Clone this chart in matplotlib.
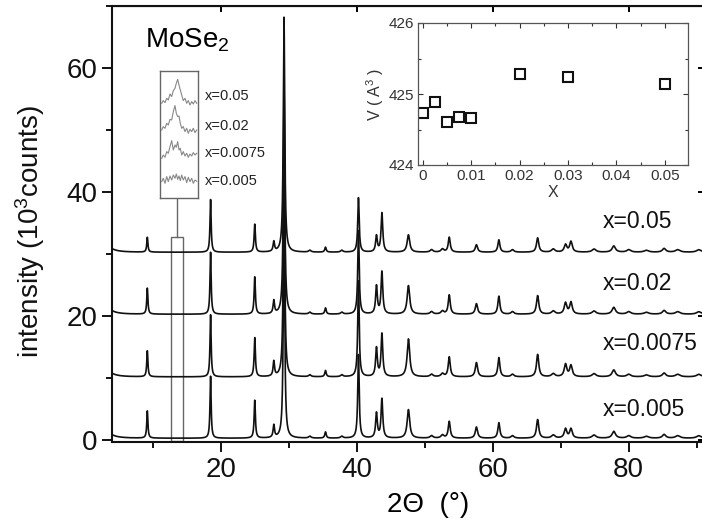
# XRD patterns of MoSe2 with lattice volume inset
import numpy as np
import matplotlib
matplotlib.use('Agg')
import matplotlib.pyplot as plt
from matplotlib.patches import Rectangle
from matplotlib.ticker import MultipleLocator, FuncFormatter

plt.rcParams['font.family'] = ['Liberation Sans', 'DejaVu Sans']
plt.rcParams['mathtext.fontset'] = 'custom'
plt.rcParams['mathtext.rm'] = 'Liberation Sans'
plt.rcParams['mathtext.it'] = 'Liberation Sans:italic'

peak_pos = [9.2, 18.5, 25.0, 27.8, 29.3, 33.1, 35.4, 37.8, 40.25, 42.9, 43.7, 47.6,
            51.0, 52.6, 53.6, 57.6, 60.9, 62.9, 66.6, 68.9, 70.7, 71.5, 74.9, 77.8,
            80.0, 82.6, 85.2, 87.2, 90.3]
peak_fwhm = [0.2, 0.2, 0.22, 0.25, 0.25, 0.4, 0.25, 0.4, 0.25, 0.3, 0.3, 0.45,
             0.5, 0.5, 0.35, 0.4, 0.35, 0.5, 0.4, 0.6, 0.45, 0.45, 0.7, 0.6,
             0.7, 0.8, 0.6, 0.8, 0.8]

# Peak heights (10^3 counts) for each sample
h_0005 = [4.4, 10.0, 6.1, 2.0, 36.0, 0.3, 1.0, 0.3, 13.5, 4.0, 6.3, 4.6,
          0.4, 0.5, 2.7, 1.8, 2.5, 0.4, 3.0, 0.5, 1.5, 1.5, 0.5, 1.1,
          0.4, 0.3, 0.6, 0.4, 0.4]
h_00075 = [4.2, 10.0, 6.3, 2.4, 37.0, 0.3, 1.0, 0.3, 15.5, 4.6, 6.9, 6.1,
           0.4, 0.5, 3.2, 2.3, 3.1, 0.4, 3.6, 0.5, 2.0, 1.8, 0.5, 1.1,
           0.4, 0.3, 0.6, 0.4, 0.4]
h_002 = [4.2, 10.0, 6.0, 2.1, 37.0, 0.3, 1.0, 0.3, 13.5, 4.5, 6.8, 4.6,
         0.4, 0.5, 3.1, 1.7, 2.9, 0.4, 3.0, 0.5, 1.8, 1.9, 0.5, 1.1,
         0.4, 0.3, 0.6, 0.4, 0.4]
h_005 = [2.4, 8.5, 4.5, 1.6, 38.0, 0.3, 0.8, 0.3, 8.8, 2.6, 6.3, 2.8,
         0.4, 0.5, 2.4, 1.2, 2.0, 0.4, 2.3, 0.5, 1.2, 1.7, 0.5, 1.0,
         0.4, 0.3, 0.6, 0.4, 0.4]

sample_labels = ['x=0.005', 'x=0.0075', 'x=0.02', 'x=0.05']
sample_heights = [h_0005, h_00075, h_002, h_005]
offsets = [0.2, 10.1, 20.2, 30.2]

# Zoomed traces near 13.5 deg (box pixel units)
zoom_x = [1.7, 3.3, 5.0, 6.7, 8.3, 10.0, 11.7, 13.3, 15.0, 16.3, 17.7, 19.0, 20.3,
          21.7, 23.3, 25.0, 26.7, 28.3, 30.0, 31.7, 33.3, 35.0, 36.7]
zoom_005 = [95, 97.7, 95.7, 100, 98.3, 104.3, 101.7, 107.7, 110, 115, 119, 113.3,
            108.3, 103.3, 97.7, 100, 95, 97.7, 93.3, 96.7, 94.3, 97.7, 95]
zoom_002 = [68.3, 71.7, 70, 75, 73.3, 79, 78.3, 86.7, 92.7, 85, 81.7, 82.3,
            75, 70, 71.7, 66.7, 70, 65, 69, 66.7, 70, 65.7, 68.3]
zoom_00075 = [40, 43.3, 41, 46.7, 45, 51.7, 57.7, 48.3, 53.3, 51, 56.7, 48.3,
              50, 43.3, 46.7, 42.3, 45, 41, 44.3, 42.3, 45.7, 43.3, 45]
zoom_0005 = [16.7, 20, 15, 21.7, 16.7, 22.3, 18.3, 23.3, 20, 24.3, 19, 22.3,
             17.7, 23.3, 18.3, 21.7, 15.7, 21, 16.7, 20, 15, 18.3, 17]

# Inset: cell volume vs x
vol_x = [0.0, 0.0025, 0.005, 0.0075, 0.01, 0.02, 0.03, 0.05]
vol_v = [424.73, 424.89, 424.60, 424.68, 424.66, 425.28, 425.24, 425.14]


def pattern(tt, heights):
    y = np.zeros_like(tt) + 1.2 / (1 + ((tt - 3.0) / 1.0) ** 2)
    for p, w, h in zip(peak_pos, peak_fwhm, heights):
        y += h / (1 + ((tt - p) / (w / 2)) ** 2)
    return y


fig = plt.figure(figsize=(7.02, 5.25), dpi=100)
ax = fig.add_axes([0.1595, 0.1581, 0.8427, 0.8314])

tt = np.linspace(4, 91, 6000)
for hs, off in zip(sample_heights, offsets):
    ax.plot(tt, pattern(tt, hs) + off, color='#111111', lw=1.2)

ax.set_xlim(4, 91)
ax.set_ylim(-0.4, 70)
ax.xaxis.set_major_locator(MultipleLocator(20))
ax.xaxis.set_minor_locator(MultipleLocator(10))
ax.yaxis.set_major_locator(MultipleLocator(20))
ax.yaxis.set_minor_locator(MultipleLocator(10))
ax.tick_params(which='both', direction='out', width=1.4, labelsize=20, colors='#111111')
ax.tick_params(which='major', length=7.5, pad=3)
ax.tick_params(which='minor', length=4.5)
for s in ax.spines.values():
    s.set_linewidth(1.5)
    s.set_color('#111111')

# inward ticks on top and right
top = ax.secondary_xaxis('top')
top.xaxis.set_major_locator(MultipleLocator(20))
top.tick_params(direction='in', length=4, width=1.4, labeltop=False)
right = ax.secondary_yaxis('right')
right.yaxis.set_major_locator(MultipleLocator(20))
right.tick_params(direction='in', length=4, width=1.4, labelright=False)

ax.set_xlabel('2\u0398  (\u00b0)', fontsize=20)
ax.xaxis.set_label_coords(0.534, -0.115)
fig.text(30 / 702, 1 - 232 / 525, 'intensity (10$^3$counts)', rotation=90,
         ha='center', va='center', fontsize=20, color='#111111')

ax.text(145 / 702, 1 - 40 / 525, 'MoSe$_2$', transform=fig.transFigure,
        fontsize=20, ha='left', va='center')

label_y = [410, 343, 284, 222]
for lab, ly in zip(sample_labels, label_y):
    fig.text(603 / 702, 1 - ly / 525, lab, fontsize=16.5, ha='left', va='center',
             color='#111111')

# marked region and zoom box
ax.add_patch(Rectangle((12.65, -0.3), 1.75, 32.9, fill=False, ec='#666666', lw=1))
ax.plot([13.5, 13.5], [32.6, 38.9], color='#666666', lw=1)

box = fig.add_axes([160 / 702, 1 - 198.3 / 525, 38.3 / 702, 127.3 / 525])
for ys in (zoom_005, zoom_002, zoom_00075, zoom_0005):
    box.plot(zoom_x, ys, color='#888888', lw=0.8)
box.set_xlim(0, 38.3)
box.set_ylim(0, 127.3)
box.set_xticks([])
box.set_yticks([])
for s in box.spines.values():
    s.set_color('#666666')
    s.set_linewidth(1)
box_label_y = [96, 126, 153, 181]
for lab, ly in zip(sample_labels[::-1], box_label_y):
    fig.text(205 / 702, 1 - ly / 525, lab, fontsize=10.5, ha='left', va='center',
             color='#222222')

# inset volume plot
ins = fig.add_axes([418 / 702, 1 - 165 / 525, 270 / 702, 142 / 525])
ins.plot(vol_x, vol_v, 's', ms=7, mfc='none', mec='#111111', mew=1.5)
ins.set_xlim(-0.001, 0.0548)
ins.set_ylim(424, 426)
ins.xaxis.set_major_locator(MultipleLocator(0.01))
ins.xaxis.set_minor_locator(MultipleLocator(0.005))
ins.yaxis.set_major_locator(MultipleLocator(1))
ins.yaxis.set_minor_locator(MultipleLocator(0.5))
ins.xaxis.set_major_formatter(FuncFormatter(lambda v, p: '0' if abs(v) < 1e-9 else f'{v:g}'))
ins.tick_params(which='both', direction='in', top=True, right=True,
                labelsize=11, colors='#333333', width=0.8)
ins.tick_params(which='major', length=3.5, pad=3)
ins.tick_params(which='minor', length=2)
for s in ins.spines.values():
    s.set_color('#555555')
    s.set_linewidth(0.9)
ins.set_xlabel('X', fontsize=11.5, labelpad=1, color='#333333')
ins.set_ylabel('V ( A$^3$ )', fontsize=11.5, labelpad=2, color='#333333')

fig.savefig('out.png', dpi=100)
